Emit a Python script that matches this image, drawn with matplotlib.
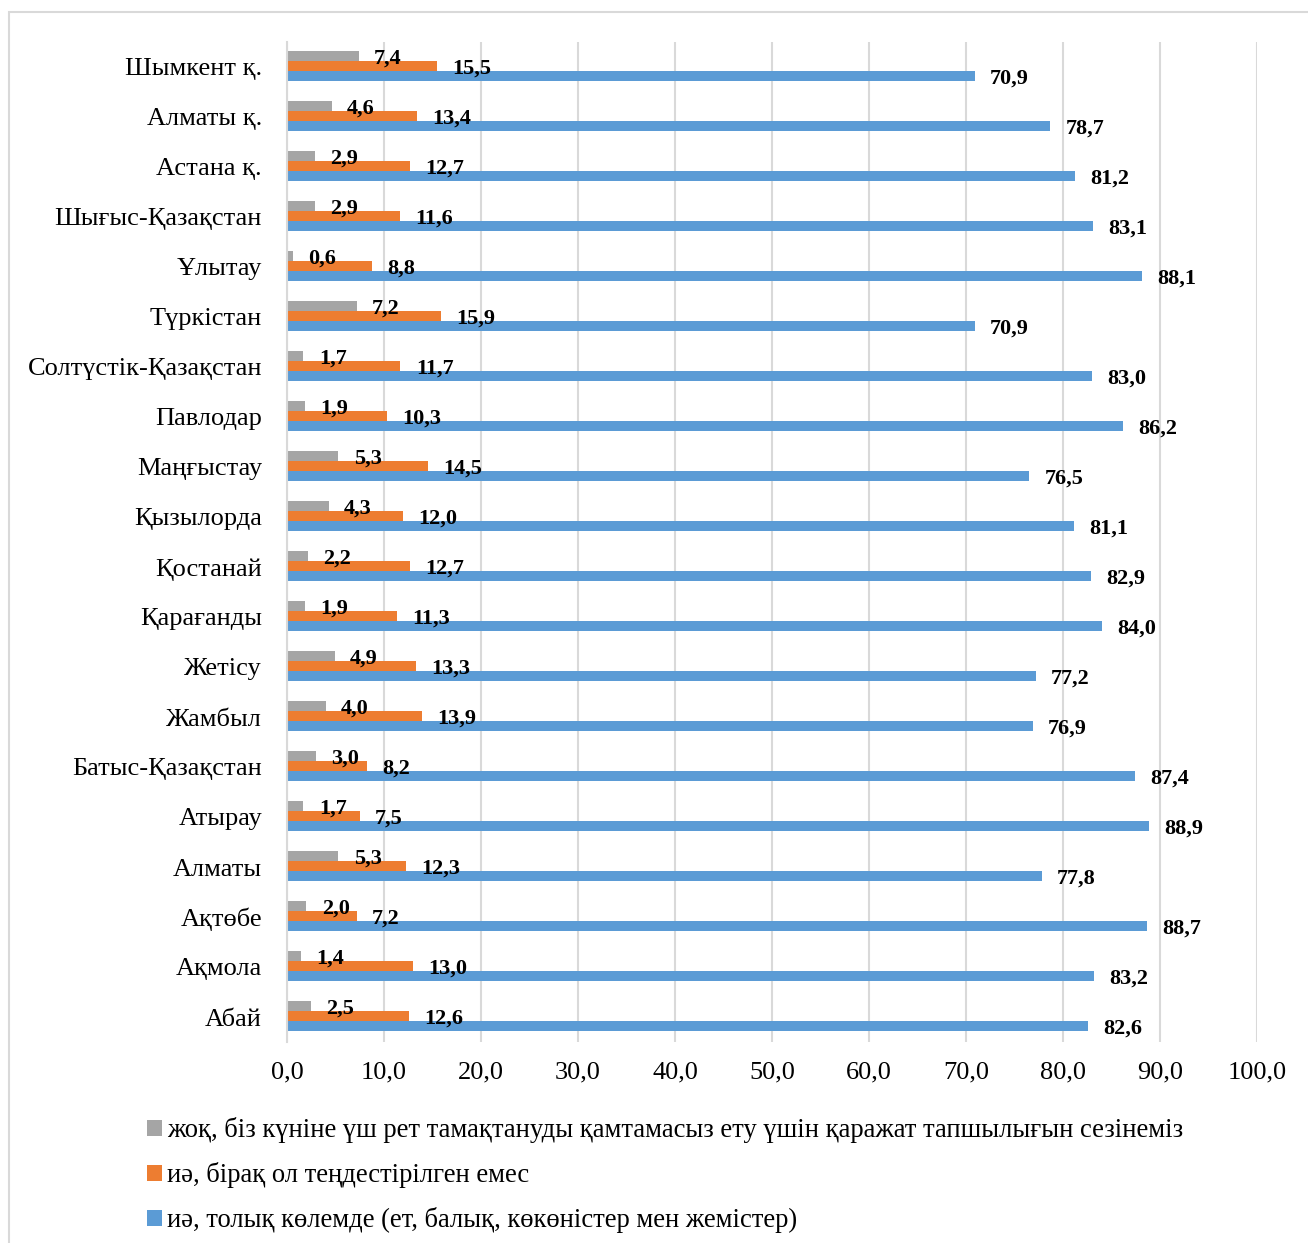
import matplotlib
matplotlib.use("Agg")
import matplotlib.pyplot as plt
import numpy as np
from matplotlib.patches import Rectangle

categories = ["Шымкент қ.", "Алматы қ.", "Астана қ.", "Шығыс-Қазақстан", "Ұлытау",
              "Түркістан", "Солтүстік-Қазақстан", "Павлодар", "Маңғыстау", "Қызылорда",
              "Қостанай", "Қарағанды", "Жетісу", "Жамбыл", "Батыс-Қазақстан",
              "Атырау", "Алматы", "Ақтөбе", "Ақмола", "Абай"]
no_money = [7.4, 4.6, 2.9, 2.9, 0.6, 7.2, 1.7, 1.9, 5.3, 4.3,
            2.2, 1.9, 4.9, 4.0, 3.0, 1.7, 5.3, 2.0, 1.4, 2.5]
yes_unbalanced = [15.5, 13.4, 12.7, 11.6, 8.8, 15.9, 11.7, 10.3, 14.5, 12.0,
                  12.7, 11.3, 13.3, 13.9, 8.2, 7.5, 12.3, 7.2, 13.0, 12.6]
yes_full = [70.9, 78.7, 81.2, 83.1, 88.1, 70.9, 83.0, 86.2, 76.5, 81.1,
            82.9, 84.0, 77.2, 76.9, 87.4, 88.9, 77.8, 88.7, 83.2, 82.6]
series_names = ["жоқ, біз күніне үш рет тамақтануды қамтамасыз ету үшін қаражат тапшылығын сезінеміз",
                "иә, бірақ ол теңдестірілген емес",
                "иә, толық көлемде (ет, балық, көкөністер мен жемістер)"]
colors = ["#a5a5a5", "#ed7d31", "#5b9bd5"]
x_ticks = [0, 10, 20, 30, 40, 50, 60, 70, 80, 90, 100]

plt.rcParams['font.family'] = ['Liberation Serif', 'DejaVu Serif']

W, H = 1308, 1243
fig = plt.figure(figsize=(W / 100, H / 100), dpi=100)
ax = fig.add_axes([287 / W, 1 - 1042 / H, (1257 - 287) / W, 1000 / H])

n = len(categories)
ypos = np.arange(n)[::-1]  # first category at top
h = 0.2
offsets = [0.2, 0.0, -0.2]
bars = []
for vals, off, col, name in zip([no_money, yes_unbalanced, yes_full], offsets, colors, series_names):
    b = ax.barh(ypos + off + 0.02, vals, height=h, color=col, label=name, zorder=3)
    bars.append(b)
    for y, v in zip(ypos, vals):
        ax.annotate(f"{v:.1f}".replace(".", ","), xy=(v, y + off), xytext=(11, -1),
                    textcoords="offset points", ha="left", va="center",
                    fontsize=16, fontweight="bold", color="black", zorder=4)

ax.set_xlim(0, 100)
ax.set_ylim(-0.5, n - 0.5)
ax.set_xticks(x_ticks)
ax.set_xticklabels([f"{t:.1f}".replace(".", ",") for t in x_ticks], fontsize=19)
ax.set_yticks(ypos)
ax.set_yticklabels(categories, fontsize=19)
ax.tick_params(axis="both", length=0)
ax.tick_params(axis="y", pad=18)
ax.tick_params(axis="x", pad=14)
ax.grid(axis="x", color="#d9d9d9", linewidth=1.5, zorder=0)
for s in ["top", "right", "bottom"]:
    ax.spines[s].set_visible(False)
ax.spines["left"].set_color("#d9d9d9")
ax.spines["left"].set_linewidth(1.5)
ax.spines["left"].set_zorder(5)

# chart border
fig.patches.append(Rectangle((9 / W, -0.05), 1.1, 1 - 12 / H + 0.05, transform=fig.transFigure,
                             fill=False, edgecolor="#d9d9d9", linewidth=1.5))

leg = fig.legend(handles=bars, labels=series_names, loc="upper left",
                 bbox_to_anchor=(147 / W, 1 - 1117 / H), frameon=False, fontsize=19.2,
                 handlelength=0.55, handleheight=0.55, handletextpad=0.2,
                 labelspacing=0.72, borderpad=0, borderaxespad=0)

fig.savefig("out.png", dpi=100)
